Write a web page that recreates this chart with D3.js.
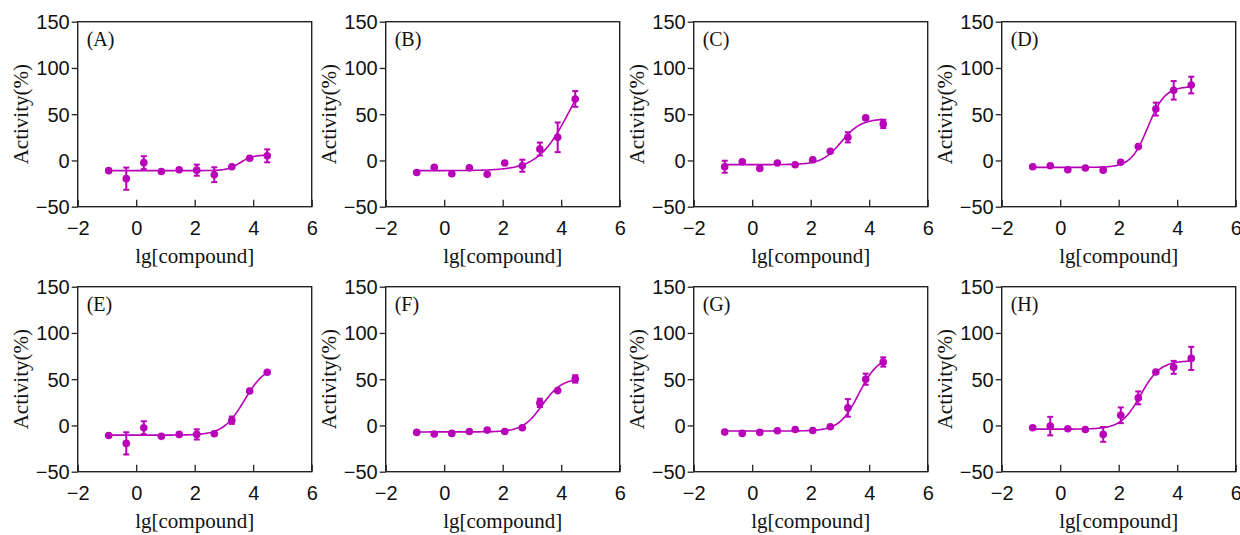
<!DOCTYPE html>
<html>
<head>
<meta charset="utf-8">
<script src="https://cdn.jsdelivr.net/npm/d3@7"></script>
<style>
  body { margin: 0; background: #fff; }
  svg { display: block; font-family: "Liberation Serif", "Times New Roman", serif; }
</style>
</head>
<body>
<svg id="chart" width="1240" height="535"></svg>
<script>
// lg of the dilution series (same for every panel)
const doses = [-0.94, -0.34, 0.26, 0.86, 1.47, 2.07, 2.67, 3.27, 3.88, 4.48];
const panelLabels = ["(A)", "(B)", "(C)", "(D)", "(E)", "(F)", "(G)", "(H)"];
const xTicks = [-2, 0, 2, 4, 6];
const yTicks = [-50, 0, 50, 100, 150];

// mean activity (%) per panel
const activityA = [-11, -19.7, -2.4, -12, -10, -10.5, -15.4, -6.8, 2.3, 5];
const activityB = [-13, -7.5, -14.3, -8, -15, -2.8, -5.7, 12.3, 25, 66.5];
const activityC = [-6.8, -1.4, -8.6, -2.8, -4.6, 0.8, 10, 25, 46, 39.5];
const activityD = [-6.8, -5.7, -10, -8.2, -10.5, -2, 15, 55.5, 75.8, 81.5];
const activityE = [-10.8, -19.4, -2.5, -11.8, -9.7, -9.7, -9, 5.7, 37.3, 57.5];
const activityF = [-7.5, -9.3, -8.6, -6.5, -5, -6.5, -2.5, 24.4, 37.7, 50.3];
const activityG = [-7.2, -8.6, -7.5, -5.7, -4.3, -5.4, -1.4, 19, 50, 68.6];
const activityH = [-2.5, -0.7, -3.6, -4.3, -9.7, 11, 29.8, 57.8, 62.8, 72.5];

// error (+/-) per panel, 0 = bar hidden behind marker
const errorA = [0, 12, 7, 0, 0, 6, 8, 0, 0, 7];
const errorB = [0, 0, 0, 0, 0, 0, 6.5, 7, 16, 8.5];
const errorC = [6.5, 0, 0, 0, 0, 0, 0, 5.5, 0, 4.5];
const errorD = [0, 0, 0, 0, 0, 0, 0, 7, 10, 9];
const errorE = [0, 12, 7, 0, 0, 5.5, 0, 4, 0, 0];
const errorF = [0, 0, 0, 0, 0, 0, 0, 4.5, 0, 4];
const errorG = [0, 0, 0, 0, 0, 0, 0, 9.5, 6, 5];
const errorH = [0, 10, 0, 0, 8, 8.5, 7, 0, 7, 12.5];

// fitted dose-response parameters, A..H
const fitBottom = [-11, -11, -4.5, -7.5, -10.5, -7, -6, -4];
const fitTop = [6, 120, 45, 80, 65, 51, 75, 70];
const fitLogEC50 = [3.55, 4.3, 3.05, 3.0, 3.7, 3.35, 3.65, 2.75];
const fitHill = [2, 0.8, 1.3, 1.5, 1.2, 1.3, 1.3, 1.3];

const activities = [activityA, activityB, activityC, activityD, activityE, activityF, activityG, activityH];
const errors = [errorA, errorB, errorC, errorD, errorE, errorF, errorG, errorH];

const color = "#b800b8";
const pw = 234, ph = 185;
const svg = d3.select("#chart");

const x = d3.scaleLinear().domain([-2, 6]).range([0, pw]);
const y = d3.scaleLinear().domain([-50, 150]).range([ph, 0]);

panelLabels.forEach((label, i) => {
  const col = i % 4, row = Math.floor(i / 4);
  const g = svg.append("g")
    .attr("transform", `translate(${77.7 + col * 308},${21.7 + row * 265})`);

  // axes: x ticks point inward, y ticks outward
  const xa = g.append("g").attr("transform", `translate(0,${ph})`)
    .call(d3.axisBottom(x).tickValues(xTicks).tickSizeInner(-7).tickSizeOuter(0));
  const ya = g.append("g")
    .call(d3.axisLeft(y).tickValues(yTicks).tickSizeInner(6).tickSizeOuter(0).tickPadding(2));
  [xa, ya].forEach(a => {
    a.selectAll("text").style("font-size", "20px").attr("fill", "#111");
    a.selectAll("line").attr("stroke", "#222").attr("stroke-width", 1.3);
    a.select(".domain").remove();
  });
  xa.selectAll("text").attr("y", 28.5).attr("dy", 0);
  ya.selectAll("text").attr("dy", "0.34em");

  // frame
  g.append("rect").attr("width", pw).attr("height", ph)
    .attr("fill", "none").attr("stroke", "#222").attr("stroke-width", 1.4);

  g.append("text").attr("x", 9).attr("y", 24.5).text(label)
    .style("font-size", "20px").attr("fill", "#111");

  g.append("text").attr("x", pw / 2).attr("y", ph + 56)
    .attr("text-anchor", "middle").style("font-size", "21px").attr("fill", "#111")
    .text("lg[compound]");

  g.append("text")
    .attr("transform", `translate(-50,${ph / 2}) rotate(-90)`)
    .attr("text-anchor", "middle").style("font-size", "21px").attr("fill", "#111")
    .text("Activity(%)");

  // fitted curve
  const b = fitBottom[i], t = fitTop[i], c = fitLogEC50[i], h = fitHill[i];
  const xs = d3.range(doses[0], doses[doses.length - 1] + 0.001, 0.04);
  const line = d3.line()
    .x(d => x(d))
    .y(d => y(b + (t - b) / (1 + Math.pow(10, (c - d) * h))));
  g.append("path").datum(xs).attr("d", line)
    .attr("fill", "none").attr("stroke", color).attr("stroke-width", 1.6);

  const pts = doses.map((d, k) => ({ x: d, v: activities[i][k], e: errors[i][k] }));

  // error bars
  const eb = g.selectAll(".eb").data(pts.filter(p => p.e > 0)).enter().append("g")
    .attr("stroke", color).attr("stroke-width", 2);
  eb.append("line").attr("x1", p => x(p.x)).attr("x2", p => x(p.x))
    .attr("y1", p => y(p.v - p.e)).attr("y2", p => y(p.v + p.e));
  eb.append("line").attr("x1", p => x(p.x) - 3).attr("x2", p => x(p.x) + 3)
    .attr("y1", p => y(p.v + p.e)).attr("y2", p => y(p.v + p.e));
  eb.append("line").attr("x1", p => x(p.x) - 3).attr("x2", p => x(p.x) + 3)
    .attr("y1", p => y(p.v - p.e)).attr("y2", p => y(p.v - p.e));

  // markers
  g.selectAll(".pt").data(pts).enter().append("circle")
    .attr("cx", p => x(p.x)).attr("cy", p => y(p.v)).attr("r", 3.8)
    .attr("fill", color);
});
</script>
</body>
</html>
